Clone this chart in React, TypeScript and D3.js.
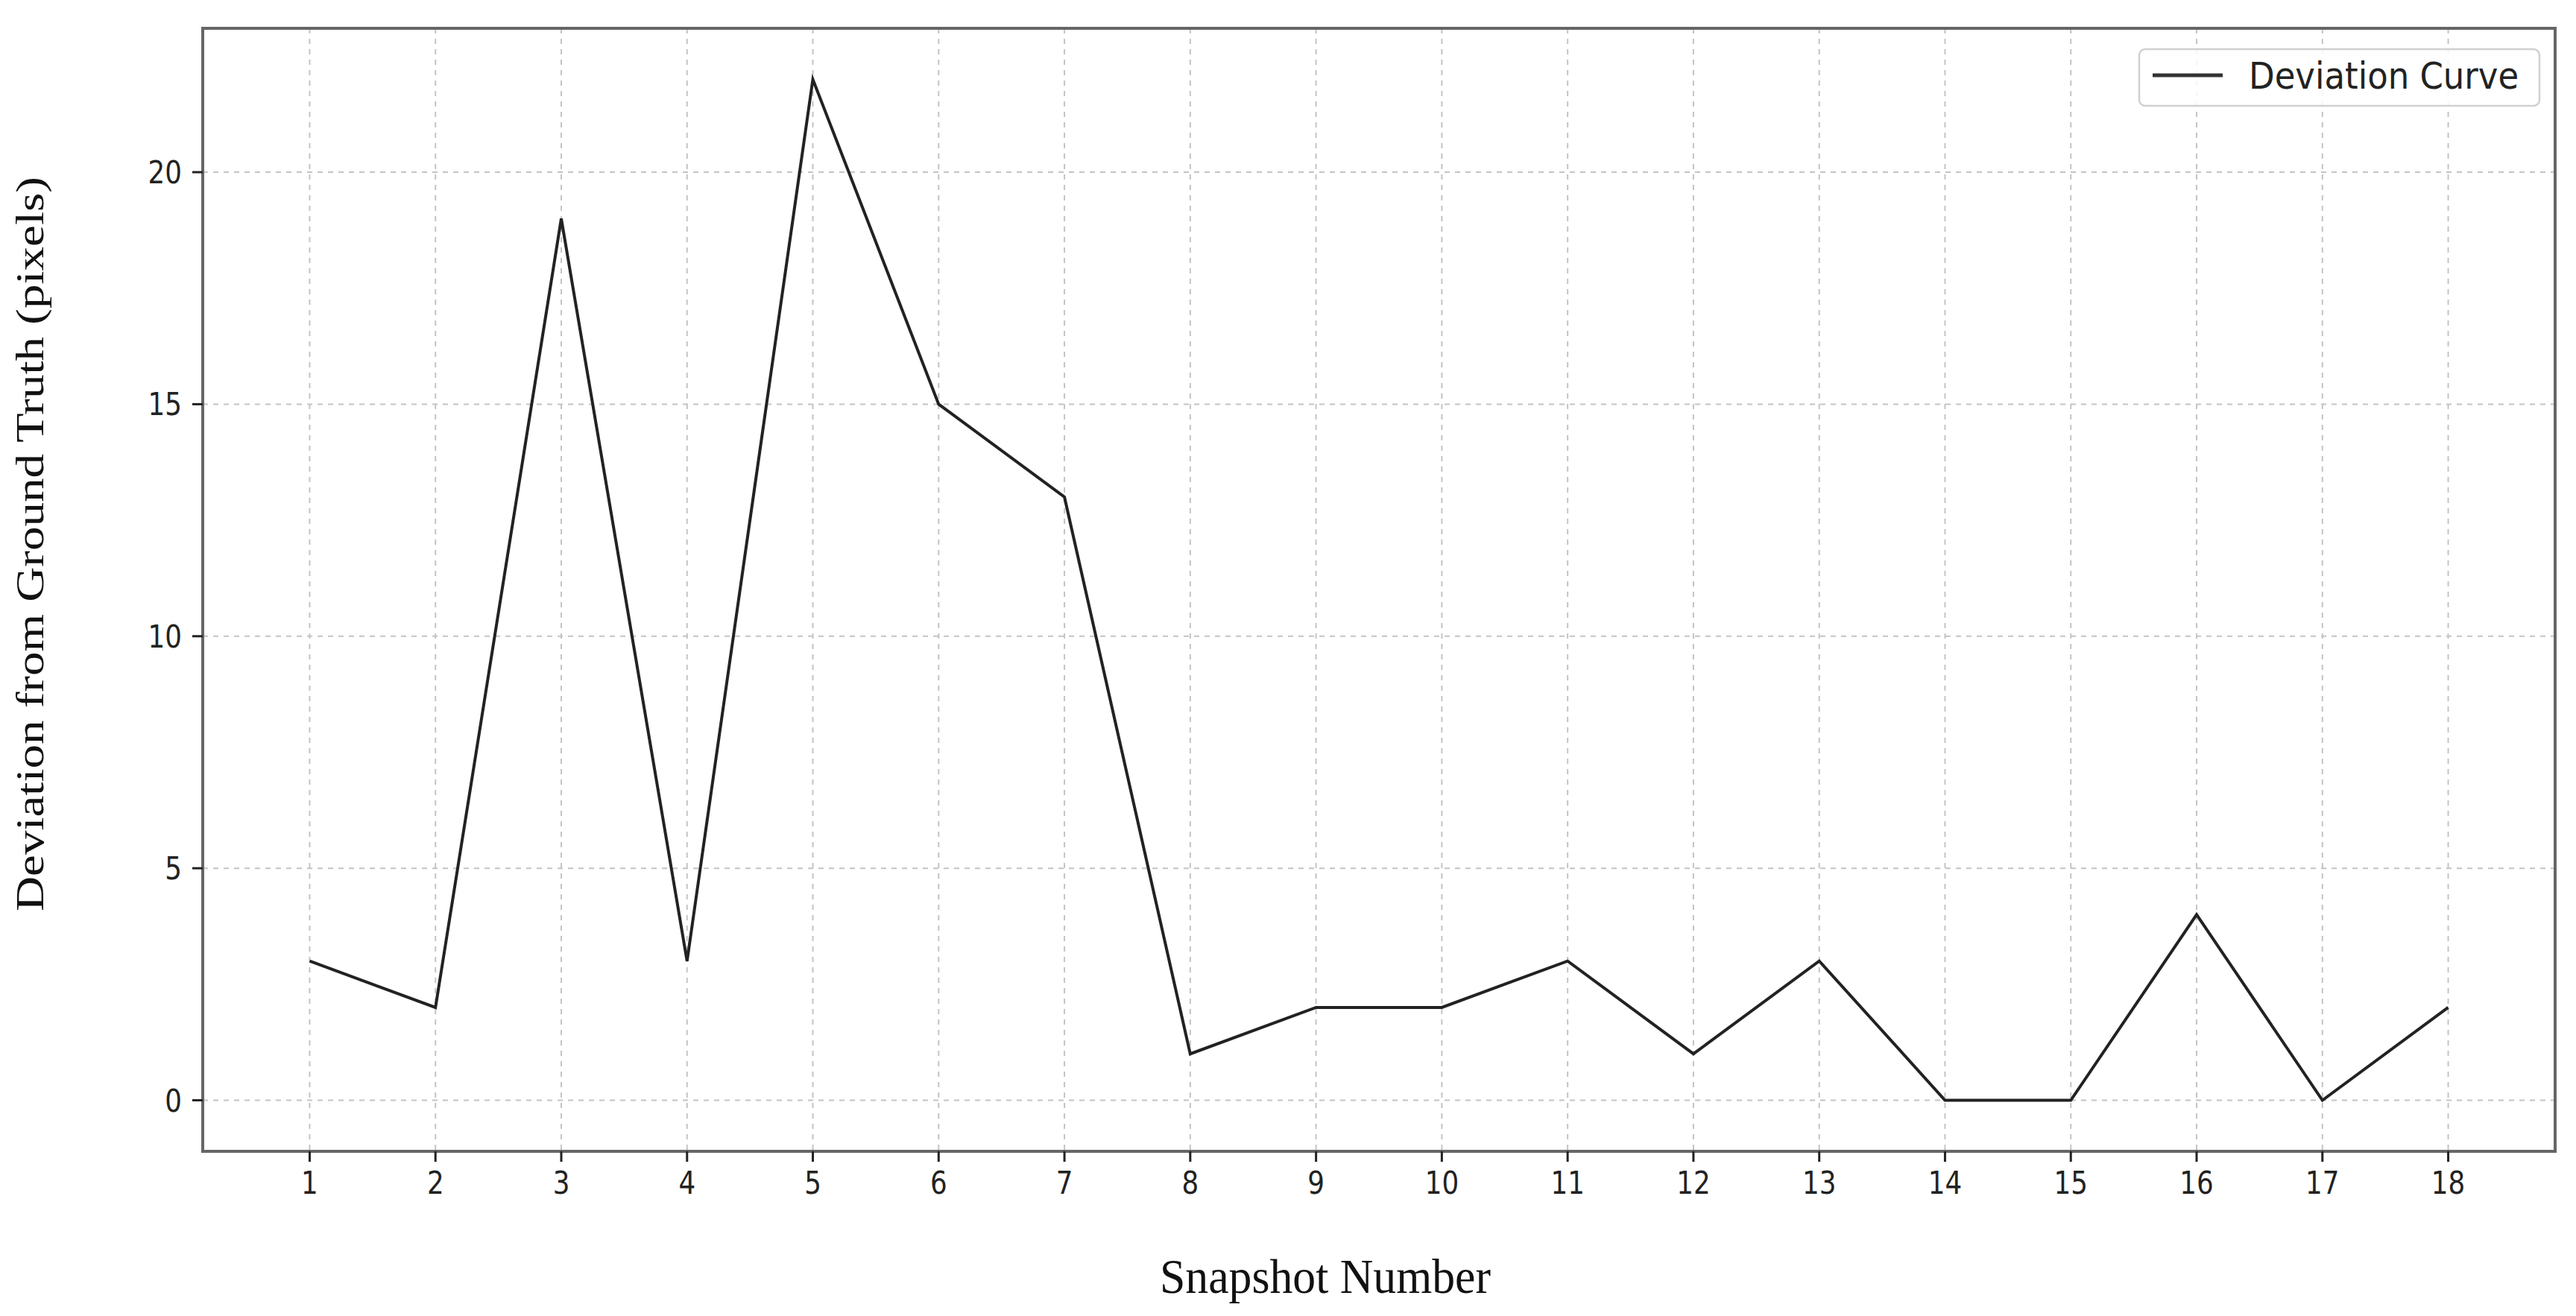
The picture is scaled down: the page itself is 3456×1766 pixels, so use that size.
import { useEffect, useRef } from 'react';
import * as d3 from 'd3';

const snapshots = [1, 2, 3, 4, 5, 6, 7, 8, 9, 10, 11, 12, 13, 14, 15, 16, 17, 18];
const deviation = [3, 2, 19, 3, 22, 15, 13, 1, 2, 2, 3, 1, 3, 0, 0, 4, 0, 2];
const yTicks = [0, 5, 10, 15, 20];
const seriesName = 'Deviation Curve';
const xTitle = 'Snapshot Number';
const yTitle = 'Deviation from Ground Truth (pixels)';

function App() {
  const ref = useRef<SVGSVGElement>(null);

  useEffect(() => {
    const svg = d3.select(ref.current);
    svg.selectAll('*').remove();

    const left = 272, right = 3428, top = 38, bottom = 1545;
    // matplotlib default 5% margins
    const x = d3.scaleLinear().domain([0.15, 18.85]).range([left, right]);
    const y = d3.scaleLinear().domain([-1.1, 23.1]).range([bottom, top]);
    const sans = 'DejaVu Sans, sans-serif';
    const serif = 'Liberation Serif, Times New Roman, serif';

    svg.append('rect').attr('width', 3456).attr('height', 1766).attr('fill', '#fff');

    // grid
    const grid = svg.append('g').attr('stroke', '#c4c4c4').attr('stroke-width', 2).attr('stroke-dasharray', '7,7');
    grid.selectAll('.gx').data(snapshots).enter().append('line')
      .attr('x1', (d) => x(d)).attr('x2', (d) => x(d)).attr('y1', top).attr('y2', bottom);
    grid.selectAll('.gy').data(yTicks).enter().append('line')
      .attr('x1', left).attr('x2', right).attr('y1', (d) => y(d)).attr('y2', (d) => y(d));

    // line
    const line = d3.line<number>().x((d, i) => x(snapshots[i])).y((d) => y(d));
    svg.append('path').datum(deviation)
      .attr('d', line)
      .attr('fill', 'none')
      .attr('stroke', '#222')
      .attr('stroke-width', 4)
      .attr('stroke-linejoin', 'miter');

    // frame
    svg.append('rect')
      .attr('x', left).attr('y', top).attr('width', right - left).attr('height', bottom - top)
      .attr('fill', 'none').attr('stroke', '#666').attr('stroke-width', 4);

    // x ticks
    const xt = svg.append('g');
    xt.selectAll('line').data(snapshots).enter().append('line')
      .attr('x1', (d) => x(d)).attr('x2', (d) => x(d)).attr('y1', bottom).attr('y2', bottom + 14)
      .attr('stroke', '#222').attr('stroke-width', 3);
    xt.selectAll('text').data(snapshots).enter().append('text')
      .attr('transform', (d) => `translate(${x(d)},${bottom + 57}) scale(0.85,1)`)
      .attr('text-anchor', 'middle')
      .attr('font-family', sans).attr('font-size', 42).attr('fill', '#222')
      .text((d) => d);

    // y ticks
    const yt = svg.append('g');
    yt.selectAll('line').data(yTicks).enter().append('line')
      .attr('x1', left - 14).attr('x2', left).attr('y1', (d) => y(d)).attr('y2', (d) => y(d))
      .attr('stroke', '#222').attr('stroke-width', 3);
    yt.selectAll('text').data(yTicks).enter().append('text')
      .attr('transform', (d) => `translate(${left - 28},${y(d) + 15}) scale(0.85,1)`)
      .attr('text-anchor', 'end')
      .attr('font-family', sans).attr('font-size', 42).attr('fill', '#222')
      .text((d) => d);

    // axis titles
    svg.append('text')
      .attr('transform', 'translate(1778,1735) scale(0.95,1)')
      .attr('text-anchor', 'middle')
      .attr('font-family', serif).attr('font-size', 65).attr('fill', '#111')
      .text(xTitle);
    svg.append('text')
      .attr('transform', 'translate(58,730) rotate(-90) scale(1,0.8)')
      .attr('text-anchor', 'middle')
      .attr('font-family', serif).attr('font-size', 65).attr('fill', '#111')
      .text(yTitle);

    // legend
    const lg = svg.append('g');
    lg.append('rect')
      .attr('x', 2870).attr('y', 66).attr('width', 537).attr('height', 76).attr('rx', 8)
      .attr('fill', '#fff').attr('fill-opacity', 0.85).attr('stroke', '#d0d0d0').attr('stroke-width', 2.5);
    lg.append('line')
      .attr('x1', 2888).attr('x2', 2982).attr('y1', 101).attr('y2', 101)
      .attr('stroke', '#333').attr('stroke-width', 5);
    lg.append('text')
      .attr('transform', 'translate(3017,119) scale(0.9,1)')
      .attr('font-family', sans).attr('font-size', 50).attr('fill', '#222')
      .text(seriesName);
  }, []);

  return (
    <div className="App">
      <svg ref={ref} width="3456" height="1766" style={{ position: 'absolute', left: 0, top: 0 }}></svg>
    </div>
  );
}

export default App;
